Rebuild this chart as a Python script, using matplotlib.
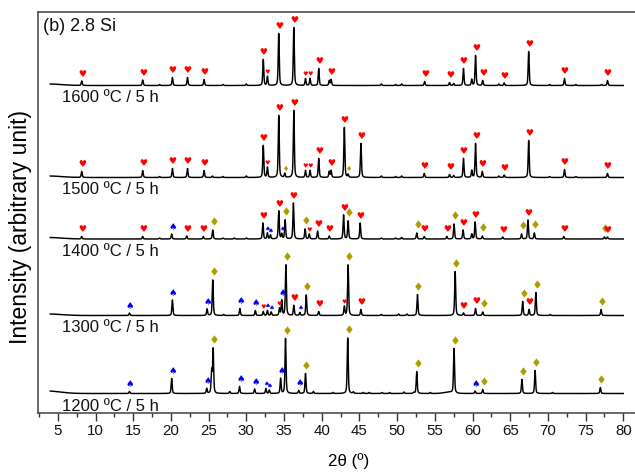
import numpy as np
import matplotlib
matplotlib.use('Agg')
import matplotlib.pyplot as plt
from matplotlib.textpath import TextPath
from matplotlib.font_manager import FontProperties
from matplotlib.path import Path
from matplotlib.ticker import MultipleLocator

plt.rcParams['font.family'] = ['Liberation Sans', 'DejaVu Sans']

# ---------------- data (2θ in degrees; intensity in arbitrary units above baseline) ----------------
temps = ['1600 ºC / 5 h', '1500 ºC / 5 h', '1400 ºC / 5 h', '1300 ºC / 5 h', '1200 ºC / 5 h']
baselines = [327.0, 235.0, 173.5, 97.0, 19.0]

pos_1600 = [8.17, 16.26, 18.5, 20.2, 22.2, 24.4, 26.9, 30.0, 32.25, 32.8, 34.3, 36.3, 37.85, 38.45, 39.6,
            41.0, 41.25, 47.9, 49.8, 50.6, 53.65, 56.95, 57.5, 58.8, 59.9, 60.4, 61.35, 63.5, 64.2, 67.45,
            70.2, 72.2, 73.7, 77.1, 77.9]
int_1600 = [4.5, 5.5, 1, 8, 8, 6, 1, 1.5, 26, 9, 52, 58, 7, 7, 17, 5, 6, 1.5, 1, 1.5, 4, 3, 2, 17, 6, 30,
            5, 1.5, 2.5, 34, 1, 7, 1, 1, 5]
phase_1600 = ['H', 'H', '', 'H', 'H', 'H', '', '', 'H', 'h', 'H', 'H', 'h', 'h', 'H', '', 'H', '', '', '',
              'H', 'H', '', 'H', '', 'H', 'H', '', 'H', 'H', '', 'H', '', '', 'H']

pos_1500 = [8.17, 16.26, 18.5, 20.2, 22.2, 24.4, 25.5, 26.9, 30.0, 32.25, 32.8, 34.3, 35.1, 36.3, 37.85,
            38.45, 39.6, 41.0, 41.25, 43.0, 43.5, 45.2, 47.9, 49.8, 50.6, 53.6, 56.95, 57.5, 58.8, 59.9,
            60.4, 61.3, 63.5, 64.2, 67.45, 70.2, 72.2, 73.7, 77.9]
int_1500 = [6, 7, 1, 9, 9, 7, 1.5, 1, 1.5, 32, 10, 62, 4, 67, 7, 7, 19, 6, 7, 50, 3, 34, 1.5, 1, 1.5, 4,
            3, 2, 19, 7, 34, 6, 1.5, 2.5, 37, 1, 8, 1, 4]
phase_1500 = ['H', 'H', '', 'H', 'H', 'H', '', '', '', 'H', 'h', 'H', 'd', 'H', 'h', 'h', 'H', '', 'H', 'H',
              'd', 'H', '', '', '', 'H', 'H', '', 'H', '', 'H', 'H', '', 'H', 'H', '', 'H', '', 'H']

pos_1400 = [8.17, 16.26, 18.5, 20.1, 22.1, 24.3, 25.55, 26.9, 28.4, 30.0, 32.2, 32.8, 33.2, 34.3, 34.7,
            35.15, 36.25, 37.8, 38.35, 39.45, 41.0, 42.9, 43.5, 45.1, 47.9, 49.8, 50.6, 52.6, 53.6, 56.6,
            57.55, 58.75, 59.9, 60.35, 61.3, 64.0, 66.5, 67.35, 68.2, 72.1, 77.5, 77.9]
int_1400 = [2.5, 2.5, 1, 5, 3, 2.5, 9, 1, 1, 1, 16, 6, 4, 28, 5, 19, 36, 10, 5, 8, 3, 24, 18, 16, 1, 1,
            1.5, 6, 2.5, 2.5, 15, 9, 5, 17, 3, 2, 5, 19, 6, 2.5, 2, 2]
phase_1400 = ['H', 'H', '', 'S', 'H', 'H', 'D', '', '', '', 'H', 's', 's', 'H', 's', 'D', 'H', 'D', 'h', 'H',
              'H', 'H', 'D', 'H', '', '', '', 'D', 'H', 'H', 'D', 'H', '', 'H', 'D', 'H', 'D', 'H', 'D', 'H',
              'D', 'H']

pos_1300 = [14.5, 20.2, 24.8, 25.55, 27.0, 29.15, 31.2, 32.25, 32.8, 33.3, 34.4, 34.7, 35.25, 36.3, 37.1,
            37.95, 39.6, 43.0, 43.5, 45.2, 47.9, 50.2, 51.3, 52.7, 57.7, 58.8, 60.4, 61.35, 66.65, 67.5,
            68.4, 70.3, 77.05]
int_1300 = [2.5, 15.5, 6.5, 35.5, 1, 7, 5, 4, 5, 3.5, 7, 15, 50.5, 10, 3, 20.5, 4, 9, 50.5, 6, 1, 1.5,
            1.5, 21, 44, 2.5, 7, 3.5, 14, 6, 23, 1, 6]
phase_1300 = ['S', 'S', 'S', 'D', '', 'S', 'S', 'h', 's', 's', 'h', 'S', 'D', 'H', 's', 'D', 'H', 'h', 'D',
              'H', '', '', '', 'D', 'D', 'H', 'H', 'D', 'D', 'H', 'D', '', 'D']

pos_1200 = [14.5, 20.1, 24.75, 25.4, 25.6, 27.8, 29.1, 31.1, 32.6, 33.05, 34.55, 35.2, 36.95, 37.85, 38.9,
            41.5, 43.45, 44.2, 45.5, 46.3, 48.0, 49.0, 50.9, 52.2, 52.6, 54.4, 57.55, 60.35, 61.35, 66.55,
            68.3, 70.6, 76.95]
int_1200 = [2, 15, 5, 22, 44, 2, 7, 4.5, 5, 3.5, 15, 55, 3, 20, 2, 1, 55.5, 1.5, 1, 1, 1, 1, 1.5, 1, 22,
            1, 44.5, 2.5, 4, 14, 23, 1, 6]
phase_1200 = ['S', 'S', 'S', '', 'D', '', 'S', 'S', 's', 's', 'S', 'D', 'S', 'D', '', '', 'D', '', '', '',
              '', '', '', '', 'D', '', 'D', 'S', 'D', 'D', 'D', '', 'D']

# broad background features: (centre, height, fwhm)
hump_1600 = [(3.8, 1.5, 4.0)]
hump_1500 = [(3.8, 1.5, 4.0)]
hump_1400 = [(3.8, 1.5, 4.0)]
hump_1300 = [(3.8, 1.5, 4.0)]
hump_1200 = [(3.6, 2.5, 4.0), (56.8, 1.2, 1.5)]

patterns = [
    (pos_1600, int_1600, phase_1600, hump_1600),
    (pos_1500, int_1500, phase_1500, hump_1500),
    (pos_1400, int_1400, phase_1400, hump_1400),
    (pos_1300, int_1300, phase_1300, hump_1300),
    (pos_1200, int_1200, phase_1200, hump_1200),
]
xticks = list(range(5, 81, 5))

# ---------------- drawing ----------------
FWHM = 0.16
ETA = 0.5
tt = np.arange(4.0, 80.0001, 0.01)


def profile(x, c, h, w, eta):
    g = np.exp(-4 * np.log(2) * ((x - c) / w) ** 2)
    lo = 1.0 / (1.0 + ((x - c) / (w / 2)) ** 2)
    return h * (eta * lo + (1 - eta) * g)


def glyph_marker(ch):
    tp = TextPath((0, 0), ch, size=1, prop=FontProperties(family='DejaVu Sans'))
    v = tp.vertices
    mn, mx = v.min(0), v.max(0)
    return Path(v - (mn + mx) / 2, tp.codes)


heart = glyph_marker('\u2665')
spade = glyph_marker('\u2660')
diamond = glyph_marker('\u2666')
mstyle = {
    'H': (heart, '#ff0000', 5.4, 8.0),
    'h': (heart, '#ff0000', 3.5, 5.0),
    'S': (spade, '#0000ff', 5.0, 8.0),
    's': (spade, '#0000ff', 3.3, 5.0),
    'D': (diamond, '#b09c00', 6.0, 8.5),
    'd': (diamond, '#b09c00', 3.7, 5.5),
}

fig = plt.figure(figsize=(6.35, 4.73), dpi=100)
ax = fig.add_axes([38 / 635, 60.5 / 473, 597 / 635, 400 / 473])

for (pos, inten, phase, humps), base, lab in zip(patterns, baselines, temps):
    y = np.full_like(tt, base)
    for c, h in zip(pos, inten):
        y += profile(tt, c, h, FWHM, ETA)
    for c, h, w in humps:
        y += profile(tt, c, h, w, 0.0)
    ax.plot(tt, y, color='black', lw=1.05, solid_joinstyle='round')
    for c, ph in zip(pos, phase):
        if not ph:
            continue
        path, col, ms, gap = mstyle[ph]
        win = np.abs(tt - c) <= 0.08
        top = y[win].max()
        ax.plot([c], [top + gap], linestyle='none', marker=path, markersize=ms,
                color=col, markeredgewidth=0)
    ax.text(5.5, base - 12.5, lab, ha='left', va='center', fontsize=12, color='#111111')

ax.text(3.0, 385.5, '(b) 2.8 Si', ha='left', va='center', fontsize=13, color='#111111')

ax.set_xlim(2.374, 81.55)
ax.set_ylim(0, 400)
ax.set_yticks([])
ax.set_xticks(xticks)
ax.xaxis.set_minor_locator(MultipleLocator(2.5))
ax.tick_params(axis='x', which='major', direction='out', length=5.5, width=1.0, labelsize=10.8,
               colors='#333333', labelcolor='#111111', pad=3)
ax.tick_params(axis='x', which='minor', direction='out', length=3, width=1.0, colors='#333333')
for s in ['left', 'top', 'bottom']:
    ax.spines[s].set_color('#404040')
    ax.spines[s].set_linewidth(1.1)
ax.spines['right'].set_visible(False)

ax.set_xlabel('2\u03b8 (\u00ba)', fontsize=12.2)
ax.xaxis.set_label_coords((349 - 38) / 597, (412.5 - 461) / 400)
ax.xaxis.label.set_va('center')
ax.set_ylabel('Intensity (arbitrary unit)', fontsize=16.5)
ax.yaxis.set_label_coords((21 - 38) / 597, 0.4625)
ax.yaxis.label.set_va('center')

fig.savefig('out.png', dpi=100)
